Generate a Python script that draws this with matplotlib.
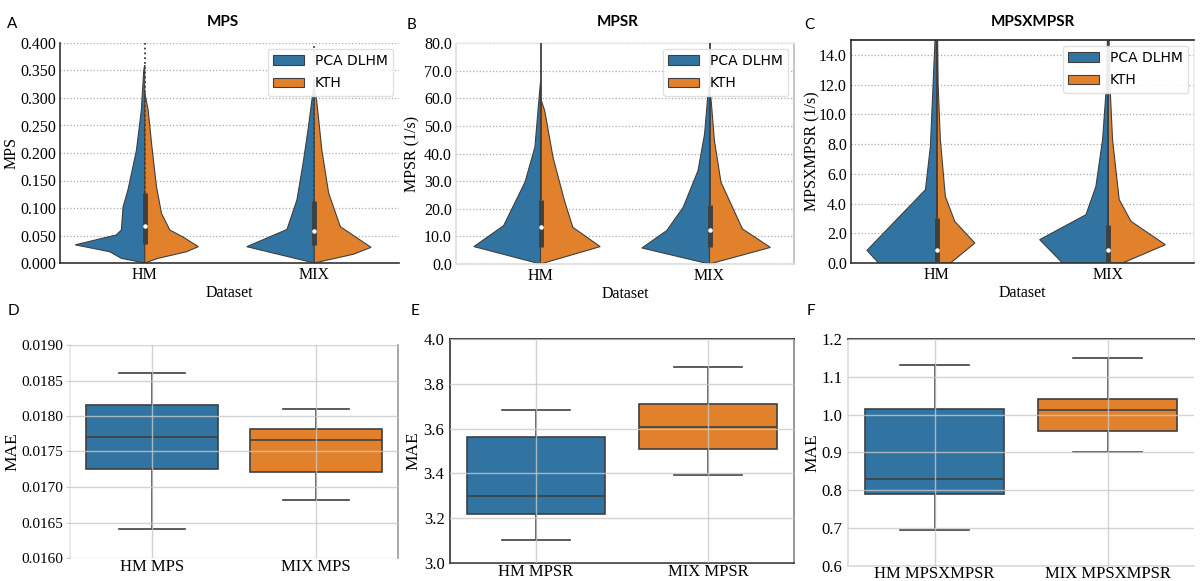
import numpy as np
import matplotlib
matplotlib.use("Agg")
import matplotlib.pyplot as plt
from matplotlib.patches import Patch
from matplotlib.ticker import FormatStrFormatter, MultipleLocator

BLUE = "#3274a1"
ORANGE = "#e1812c"
EDGE = "#3f3f3f"

labels = ["PCA DLHM", "KTH"]
datasets = ["HM", "MIX"]

# ---- violin outlines (value, half width) ----
mps_hm_pca_v = [0, 0.0085, 0.0205, 0.033, 0.051, 0.060, 0.102, 0.133, 0.205, 0.278, 0.35, 0.36]
mps_hm_pca_w = [0, 0.138, 0.207, 0.41, 0.168, 0.138, 0.128, 0.099, 0.049, 0.020, 0.006, 0]
mps_hm_kth_v = [0, 0.0085, 0.0205, 0.0297, 0.047, 0.06, 0.09, 0.139, 0.218, 0.278, 0.31]
mps_hm_kth_w = [0, 0.079, 0.246, 0.316, 0.227, 0.148, 0.099, 0.069, 0.040, 0.020, 0]
mps_mix_pca_v = [0, 0.0297, 0.061, 0.115, 0.187, 0.248, 0.296, 0.33]
mps_mix_pca_w = [0, 0.398, 0.161, 0.102, 0.063, 0.034, 0.014, 0]
mps_mix_kth_v = [0, 0.016, 0.0285, 0.066, 0.127, 0.205, 0.296, 0.32]
mps_mix_kth_w = [0, 0.232, 0.335, 0.154, 0.085, 0.045, 0.014, 0]
mps_box_q1 = [0.034, 0.033]
mps_box_q3 = [0.127, 0.112]
mps_box_med = [0.067, 0.059]

mpsr_hm_pca_v = [0, 6.3, 13.9, 29.6, 42.3, 59, 66]
mpsr_hm_pca_w = [0, 0.394, 0.218, 0.092, 0.033, 0.01, 0]
mpsr_hm_kth_v = [0, 6.3, 13.3, 22.9, 38.6, 55.5, 60]
mpsr_hm_kth_w = [0, 0.353, 0.191, 0.142, 0.074, 0.025, 0]
mpsr_mix_pca_v = [0, 5.8, 12.1, 20.5, 33.8, 47.1, 61, 66]
mpsr_mix_pca_w = [0, 0.40, 0.253, 0.156, 0.068, 0.029, 0.01, 0]
mpsr_mix_kth_v = [0, 6.0, 12.7, 29.6, 44.7, 59, 64]
mpsr_mix_kth_w = [0, 0.36, 0.195, 0.068, 0.029, 0.01, 0]
mpsr_box_q1 = [6.3, 6.0]
mpsr_box_q3 = [23.2, 21.4]
mpsr_box_med = [13.3, 12.2]

mx_hm_pca_v = [0, 0.85, 4.93, 7.85, 13.4, 15]
mx_hm_pca_w = [0.339, 0.407, 0.066, 0.037, 0.016, 0.01]
mx_hm_kth_v = [0, 1.34, 2.8, 4.48, 8.3, 12, 15]
mx_hm_kth_w = [0.080, 0.222, 0.105, 0.05, 0.021, 0.008, 0.005]
mx_mix_pca_v = [0, 1.57, 3.25, 5.15, 8.3, 12, 15]
mx_mix_pca_w = [0.267, 0.40, 0.13, 0.072, 0.033, 0.01, 0.005]
mx_mix_kth_v = [0, 1.23, 2.8, 4.26, 8.3, 12, 15]
mx_mix_kth_w = [0.084, 0.333, 0.133, 0.064, 0.025, 0.01, 0.005]
mx_box_q1 = [0.0, 0.0]
mx_box_q3 = [3.0, 2.55]
mx_box_med = [0.9, 0.85]

# ---- MAE box plots: whislo, q1, med, q3, whishi ----
mae_mps_names = ["HM MPS", "MIX MPS"]
mae_mps_hm = [0.01641, 0.01725, 0.01771, 0.01815, 0.01861]
mae_mps_mix = [0.01681, 0.01721, 0.01766, 0.01781, 0.01810]
mae_mpsr_names = ["HM MPSR", "MIX MPSR"]
mae_mpsr_hm = [3.101, 3.218, 3.300, 3.564, 3.683]
mae_mpsr_mix = [3.391, 3.511, 3.605, 3.712, 3.874]
mae_mx_names = ["HM MPSXMPSR", "MIX MPSXMPSR"]
mae_mx_hm = [0.696, 0.789, 0.829, 1.0147, 1.131]
mae_mx_mix = [0.902, 0.956, 1.012, 1.042, 1.149]

SERIF = "Liberation Serif"
W, H = 1200, 581
fig = plt.figure(figsize=(12, 5.81), dpi=100)


def px_axes(l, r, t, b):
    return fig.add_axes([l / W, 1 - b / H, (r - l) / W, (b - t) / H])


def style_spines(ax, colors):
    for side in ["left", "right", "top", "bottom"]:
        c = colors.get(side)
        if c is None:
            ax.spines[side].set_visible(False)
        else:
            ax.spines[side].set_color(c)
            ax.spines[side].set_linewidth(1.2)


def half(ax, center, v, w, side, color):
    v = np.asarray(v, float)
    w = np.asarray(w, float)
    xs = center - w if side == "left" else center + w
    x = np.concatenate([[center], xs, [center]])
    y = np.concatenate([[v[0]], v, [v[-1]]])
    ax.fill(x, y, facecolor=color, edgecolor=EDGE, lw=0.8, zorder=2)


def violin_panel(ax, halves, q1, q3, med, ylim, step, fmt, ylabel, lab_x, whisk_ls):
    for i, (pv, pw, kv, kw) in enumerate(halves):
        half(ax, i, pv, pw, "left", BLUE)
        half(ax, i, kv, kw, "right", ORANGE)
    ax.vlines([0, 1], q3, ylim, color=EDGE, lw=1.3, ls=whisk_ls, zorder=3)
    ax.vlines([0, 1], q1, q3, color=EDGE, lw=3.5, zorder=3)
    ax.scatter([0, 1], med, s=5, color="white", zorder=4)
    ax.set_xlim(-0.5, 1.5)
    ax.set_ylim(0, ylim)
    ax.yaxis.set_major_locator(MultipleLocator(step))
    ax.yaxis.set_major_formatter(FormatStrFormatter(fmt))
    ax.set_xticks([0, 1])
    ax.set_xticklabels(datasets)
    ax.grid(axis="y", ls=":", color="#aaaaaa", lw=0.9, zorder=0)
    ax.set_axisbelow(True)
    ax.tick_params(length=0, labelsize=11.5, pad=3)
    for t in ax.get_xticklabels() + ax.get_yticklabels():
        t.set_family(SERIF)
    ax.set_xlabel("Dataset", family=SERIF, fontsize=11.5, labelpad=1)
    ax.set_ylabel(ylabel, family=SERIF, fontsize=11.5, va="center")
    ax.yaxis.set_label_coords(lab_x, 0.5)
    handles = [Patch(facecolor=BLUE, edgecolor=EDGE, lw=0.8),
               Patch(facecolor=ORANGE, edgecolor=EDGE, lw=0.8)]
    ax.legend(handles, labels, loc="upper right", handlelength=2.2,
              labelspacing=0.6, prop={"family": "DejaVu Sans", "size": 10},
              framealpha=0.9, edgecolor="#dddddd", borderaxespad=0.4)


def box_panel(ax, names, hm, mix, ylim, step, fmt, lab_x, size):
    stats = []
    for nm, s in zip(names, [hm, mix]):
        stats.append({"label": nm, "whislo": s[0], "q1": s[1], "med": s[2],
                      "q3": s[3], "whishi": s[4], "fliers": []})
    bp = ax.bxp(stats, positions=[0, 1], widths=0.8, patch_artist=True,
                showfliers=False, capwidths=0.4,
                boxprops={"edgecolor": EDGE, "lw": 1.2},
                medianprops={"color": EDGE, "lw": 1.2},
                whiskerprops={"color": EDGE, "lw": 1.2},
                capprops={"color": EDGE, "lw": 1.2})
    for patch, c in zip(bp["boxes"], [BLUE, ORANGE]):
        patch.set_facecolor(c)
    ax.set_xlim(-0.5, 1.5)
    ax.set_ylim(*ylim)
    ax.yaxis.set_major_locator(MultipleLocator(step))
    ax.yaxis.set_major_formatter(FormatStrFormatter(fmt))
    ax.grid(True, color="#c8c8c8", lw=1, alpha=0.8, zorder=5)
    ax.set_axisbelow(False)
    ax.tick_params(axis="y", length=0, labelsize=size, pad=4)
    ax.tick_params(axis="x", length=0, labelsize=12, pad=1)
    for t in ax.get_xticklabels() + ax.get_yticklabels():
        t.set_family(SERIF)
    ax.set_ylabel("MAE", family=SERIF, fontsize=12.5, va="center")
    ax.yaxis.set_label_coords(lab_x, 0.5)


axA = px_axes(60, 399, 43, 263)
violin_panel(axA, [(mps_hm_pca_v, mps_hm_pca_w, mps_hm_kth_v, mps_hm_kth_w),
                   (mps_mix_pca_v, mps_mix_pca_w, mps_mix_kth_v, mps_mix_kth_w)],
             mps_box_q1, mps_box_q3, mps_box_med, 0.4, 0.05, "%.3f", "MPS",
             (12 - 60) / 339, ":")
style_spines(axA, {"left": "#333333", "bottom": "#333333"})

axB = px_axes(456, 794, 43, 264)
violin_panel(axB, [(mpsr_hm_pca_v, mpsr_hm_pca_w, mpsr_hm_kth_v, mpsr_hm_kth_w),
                   (mpsr_mix_pca_v, mpsr_mix_pca_w, mpsr_mix_kth_v, mpsr_mix_kth_w)],
             mpsr_box_q1, mpsr_box_q3, mpsr_box_med, 80, 10, "%.1f", "MPSR (1/s)",
             (412 - 456) / 338, "-")
style_spines(axB, {"left": "#dddddd", "bottom": "#dddddd", "right": "#bbbbbb",
                   "top": "#eeeeee"})

axC = px_axes(851, 1194, 40, 263)
violin_panel(axC, [(mx_hm_pca_v, mx_hm_pca_w, mx_hm_kth_v, mx_hm_kth_w),
                   (mx_mix_pca_v, mx_mix_pca_w, mx_mix_kth_v, mx_mix_kth_w)],
             mx_box_q1, mx_box_q3, mx_box_med, 15, 2, "%.1f", "MPSXMPSR (1/s)",
             (812 - 851) / 343, "-")
axC.set_ylim(0, 15)
style_spines(axC, {"left": "#333333", "bottom": "#333333", "top": "#222222",
                   "right": "#eeeeee"})

axD = px_axes(70, 398, 345, 558)
box_panel(axD, mae_mps_names, mae_mps_hm, mae_mps_mix, (0.016, 0.019), 0.0005,
          "%.4f", (12 - 70) / 328, 11)
axD.tick_params(axis="y", length=3, color="#cccccc", pad=2)
style_spines(axD, {"left": "#e6e6e6", "right": "#999999"})

axE = px_axes(450, 794, 339, 563)
box_panel(axE, mae_mpsr_names, mae_mpsr_hm, mae_mpsr_mix, (3.0, 4.0), 0.2,
          "%.1f", (413 - 450) / 344, 12)
style_spines(axE, {"left": "#333333", "bottom": "#333333", "top": "#222222",
                   "right": "#888888"})

axF = px_axes(848, 1194, 339, 566)
box_panel(axF, mae_mx_names, mae_mx_hm, mae_mx_mix, (0.6, 1.2), 0.1,
          "%.1f", (812 - 848) / 346, 12)
axF.tick_params(axis="x", pad=0)
style_spines(axF, {"left": "#dddddd", "bottom": "#dddddd", "top": "#222222"})

# titles and panel letters
for x, txt in [(223, "MPS"), (618, "MPSR"), (1033, "MPSXMPSR")]:
    fig.text(x / W, 1 - 22 / H, txt, ha="center", va="center",
             family="Lato", weight="bold", fontsize=11)
for x, y, txt in [(12, 24, "A"), (412, 25, "B"), (809, 25, "C"),
                  (13, 311, "D"), (415, 311, "E"), (811, 311, "F")]:
    fig.text(x / W, 1 - y / H, txt, ha="center", va="center",
             family="Lato", fontsize=11)

fig.savefig("out.png", dpi=100)
